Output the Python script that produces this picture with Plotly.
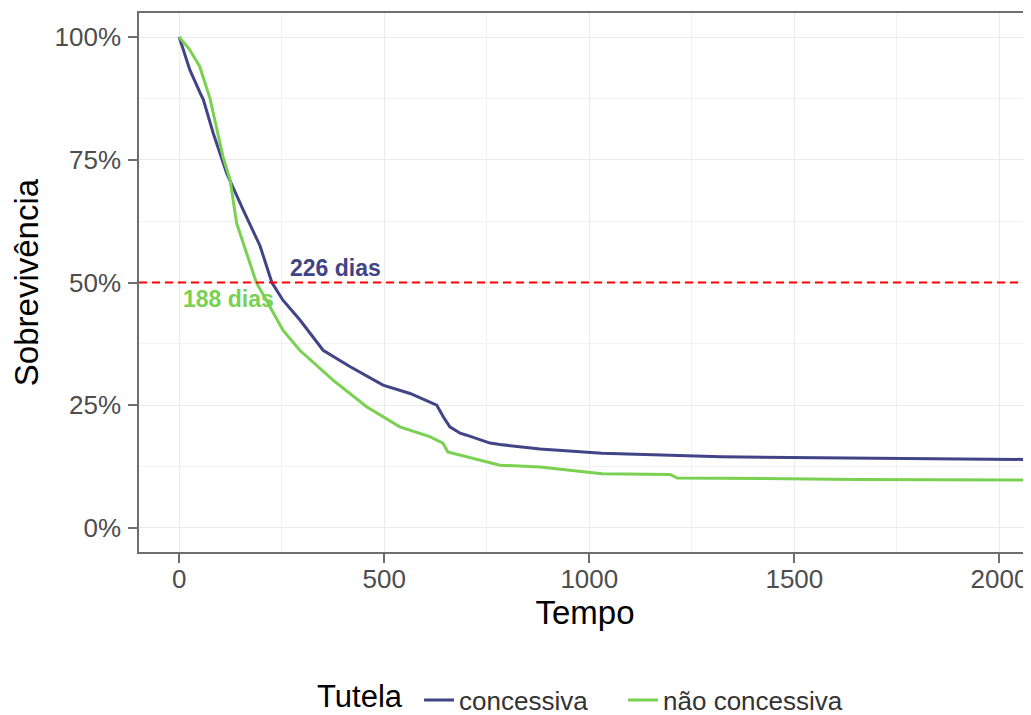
import numpy as np
import plotly.graph_objects as go

# --- data ---
tempo_conc = [0, 26, 51, 59, 83, 116, 156, 197, 226, 253, 294, 351, 416, 497, 563, 628,
              645, 660, 685, 701, 758, 782, 880, 1031, 1321, 1611, 2077]
surv_conc = [100, 93.3, 88.6, 87.2, 80.4, 72.2, 64.8, 57.5, 50.0, 46.4, 42.4, 36.2, 32.9,
             29.1, 27.4, 25.0, 22.5, 20.6, 19.3, 18.9, 17.3, 17.0, 16.1, 15.2, 14.5, 14.25, 13.95]

tempo_nconc = [0, 10, 25, 50, 75, 107, 124, 140, 164, 188, 221, 253, 294, 375, 457, 538,
               611, 643, 655, 701, 765, 782, 880, 1031, 1197, 1214, 1653, 2077]
surv_nconc = [100, 99, 97.5, 94, 87.5, 75.6, 70.9, 62.1, 55.9, 50.0, 45.1, 40.3, 36.2, 30.1,
              24.7, 20.6, 18.6, 17.3, 15.5, 14.5, 13.2, 12.8, 12.4, 11.06, 10.9, 10.2, 9.9, 9.75]

grupos = ["concessiva", "não concessiva"]
cores = ["#414487", "#7AD151"]
medianas = [226, 188]
label_pos = [(380, 52.95), (121, 46.6)]
legend_title = "Tutela"

x_ticks = [0, 500, 1000, 1500, 2000]
y_ticks = [0, 0.25, 0.5, 0.75, 1.0]

fig = go.Figure()
for t, s, nome, cor, leg in [(tempo_conc, surv_conc, grupos[0], cores[0], "legend"),
                             (tempo_nconc, surv_nconc, grupos[1], cores[1], "legend2")]:
    fig.add_trace(go.Scatter(x=t, y=np.array(s) / 100, mode="lines", name=nome,
                             legend=leg, line=dict(color=cor, width=3)))

# median reference line
fig.add_shape(type="line", xref="paper", x0=0, x1=1, yref="y", y0=0.5, y1=0.5,
              line=dict(color="#FF0000", width=2, dash="8px,5px"), layer="above")

for med, (lx, ly), cor in zip(medianas, label_pos, cores):
    fig.add_annotation(x=lx, y=ly / 100, text=f"<b>{med} dias</b>", showarrow=False,
                       font=dict(family="Liberation Sans, Arial", size=23, color=cor))

# legend title
fig.add_annotation(xref="paper", yref="paper", x=0.197, y=-0.269, xanchor="left",
                   yanchor="middle", text=legend_title, showarrow=False,
                   font=dict(size=31, color="black"))

axis_line = "#6E6E6E"
leg_common = dict(orientation="h", xanchor="left", xref="container", yref="container",
                  y=0.021, yanchor="middle", font=dict(size=26, color="#333333"),
                  itemwidth=30, bgcolor="rgba(0,0,0,0)")
fig.update_layout(
    width=1023, height=707, autosize=False,
    margin=dict(l=131, r=0, t=5, b=163, autoexpand=False),
    paper_bgcolor="white", plot_bgcolor="white",
    font=dict(family="Liberation Sans, Arial", color="black"),
    showlegend=True,
    legend=dict(x=0.4018, **leg_common),
    legend2=dict(x=0.6012, **leg_common),
)
fig.update_xaxes(
    range=[-98, 2077], tickvals=x_ticks, ticktext=[str(v) for v in x_ticks],
    showgrid=True, gridcolor="#EBEBEB", gridwidth=1.4,
    minor=dict(dtick=250, tick0=250, showgrid=True, gridcolor="#F2F2F2", gridwidth=1),
    showline=True, linecolor=axis_line, linewidth=1.5, mirror=True,
    ticks="outside", ticklen=9, tickwidth=1.5, tickcolor=axis_line,
    ticklabelstandoff=-6,
    tickfont=dict(size=26, color="#4D4D4D"), zeroline=False,
    title=dict(text="Tempo", font=dict(size=33, color="black"), standoff=8),
)
fig.update_yaxes(
    range=[-0.0489, 1.0489], tickvals=y_ticks, tickformat=".0%",
    showgrid=True, gridcolor="#EBEBEB", gridwidth=1.4,
    minor=dict(dtick=0.25, tick0=0.125, showgrid=True, gridcolor="#F2F2F2", gridwidth=1),
    showline=True, linecolor=axis_line, linewidth=1.5,
    ticks="outside", ticklen=9, tickwidth=1.5, tickcolor=axis_line,
    ticklabelstandoff=2,
    tickfont=dict(size=26, color="#4D4D4D"), zeroline=False,
    title=dict(text="Sobrevivência", font=dict(size=33, color="black"), standoff=10),
)

fig.write_html("out.html")
